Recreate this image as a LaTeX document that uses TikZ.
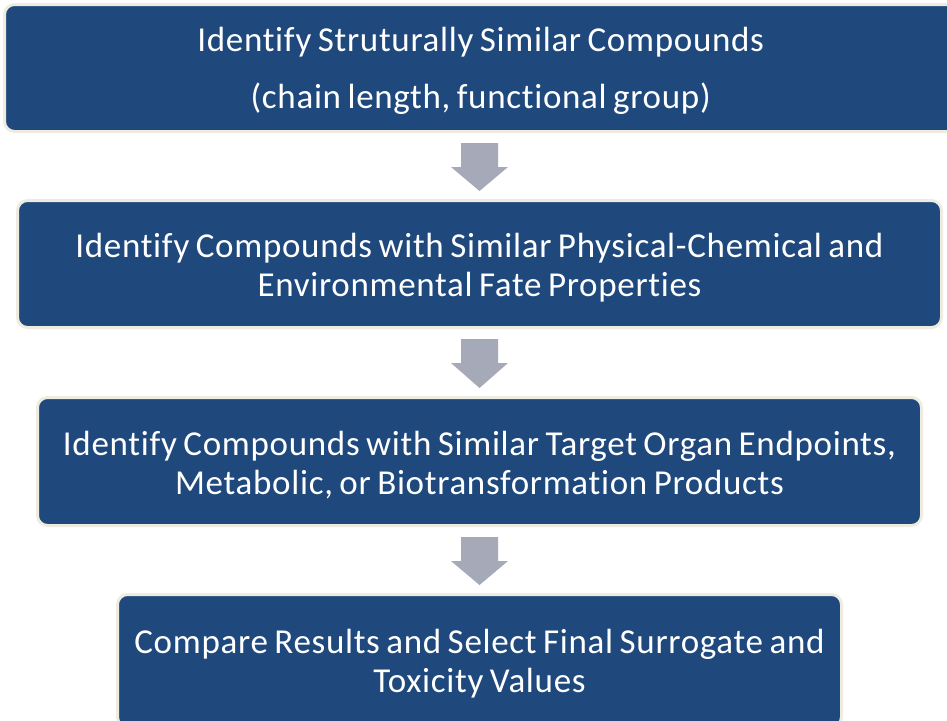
\documentclass[tikz,border=0pt]{standalone}
\usepackage{fontspec}
\setmainfont{Carlito}[Ligatures=NoCommon, LetterSpace=2, WordSpace=0.75]
\usetikzlibrary{calc}
\definecolor{boxblue}{HTML}{1F497D}
\definecolor{boxrim}{HTML}{EEECE1}
\definecolor{arrowgray}{HTML}{A5A9B8}
% extra headroom on the first line, lowers the text block slightly
\newcommand{\headroom}{\rule{0pt}{31pt}}
% block arrow pointing down from the bottom of #1 to the top of #2
\newcommand{\flowarrow}[2]{%
  \fill[arrowgray]
    ($(#2.north |- #1.south)+(-18.5,10)$) -- ++(37,0) -- ++(0,24) -- ++(10,0)
    -- ($(#2.north)+(0,-8)$)
    -- ($(#2.north |- #1.south)+(-28.5,34)$) -- ++(10,0) -- cycle;}
\begin{document}
\begin{tikzpicture}[x=1pt,y=-1pt,
  stepbox/.style={draw=boxrim, line width=3pt, fill=boxblue,
    rounded corners=10pt, text=white, align=center, inner sep=0pt,
    font=\fontsize{35}{39}\selectfont}]
\useasboundingbox (0,0) rectangle (947,720);

\node[stepbox, minimum width=952.5pt, minimum height=127pt] (b1) at (480.75,68)
  {\headroom Identify Struturally Similar Compounds\\[18pt](chain length, functional group)};
\node[stepbox, minimum width=924pt, minimum height=127pt] (b2) at (479.5,264)
  {\headroom Identify Compounds with Similar Physical-Chemical and\\Environmental Fate Properties};
\node[stepbox, minimum width=884pt, minimum height=128pt] (b3) at (479.5,461.5)
  {\headroom Identify Compounds with Similar Target Organ Endpoints,\\Metabolic, or Biotransformation Products};
\node[stepbox, minimum width=724pt, minimum height=132.5pt] (b4) at (479.5,660.75)
  {\headroom Compare Results and Select Final Surrogate and\\Toxicity Values};

\flowarrow{b1}{b2}
\flowarrow{b2}{b3}
\flowarrow{b3}{b4}
\end{tikzpicture}
\end{document}
